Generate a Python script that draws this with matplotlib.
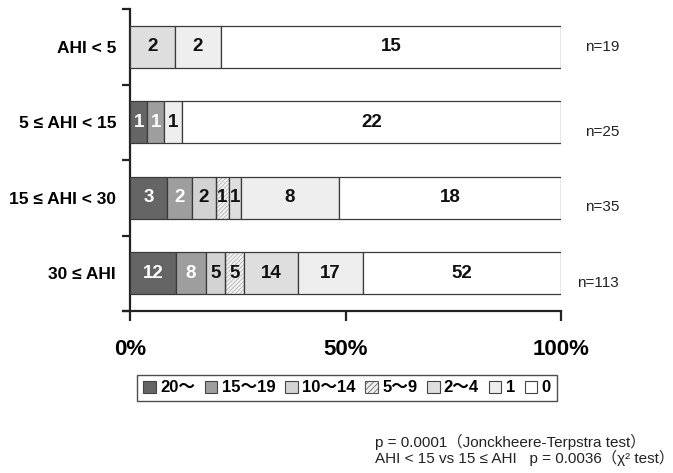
import matplotlib
matplotlib.use("Agg")
import matplotlib.pyplot as plt
import numpy as np
from matplotlib.patches import Patch

plt.rcParams['font.family'] = ['Liberation Sans', 'Noto Sans CJK JP', 'DejaVu Sans']
plt.rcParams['hatch.linewidth'] = 0.5

groups = ["AHI < 5", "5 ≤ AHI < 15", "15 ≤ AHI < 30", "30 ≤ AHI"]
categories = ["20～", "15～19", "10～14", "5～9", "2～4", "1", "0"]
counts = [
    [0, 0, 0, 0, 2, 2, 15],
    [1, 1, 0, 0, 0, 1, 22],
    [3, 2, 2, 1, 1, 8, 18],
    [12, 8, 5, 5, 14, 17, 52],
]
n_labels = ["n=19", "n=25", "n=35", "n=113"]

colors = ["#656565", "#9e9e9e", "#d2d2d2", "#ececec", "#dedede", "#eeeeee", "#ffffff"]
hatches = [None, None, None, "////////", None, None, None]
text_colors = ["white", "white", "#111111", "#111111", "#111111", "#111111", "#111111"]
edge = "#3a3a3a"

fig = plt.figure(figsize=(6.73, 4.73), dpi=100)
ax = fig.add_axes([130/673, 1-311/473, 431/673, 302/473])

bar_h = 0.555
for gi, row in enumerate(counts):
    y = 3.5 - gi
    total = sum(row)
    left = 0.0
    for ci, v in enumerate(row):
        if v == 0:
            continue
        w = v / total
        if hatches[ci]:
            ax.barh(y, w, left=left, height=bar_h, color="#f2f2f2",
                    hatch=hatches[ci], edgecolor="#a8a8a8", linewidth=0, zorder=2)
            ax.barh(y, w, left=left, height=bar_h, fill=False,
                    edgecolor=edge, linewidth=0.9, zorder=3)
        else:
            ax.barh(y, w, left=left, height=bar_h, color=colors[ci],
                    edgecolor=edge, linewidth=0.9, zorder=3)
        ax.text(left + w/2, y, str(v), ha="center", va="center",
                fontsize=13.5, fontweight="bold", color=text_colors[ci], zorder=4)
        left += w

n_offsets = [0.0, -0.13, -0.12, -0.13]
n_x = [1.056, 1.056, 1.056, 1.037]
for gi, lab in enumerate(n_labels):
    y = 3.5 - gi + n_offsets[gi]
    ax.text(n_x[gi], y, lab, ha="left", va="center", fontsize=11,
            transform=ax.get_yaxis_transform(), color="#222222")

ax.set_xlim(0, 1)
ax.set_ylim(0, 4)
for s in ["top", "right"]:
    ax.spines[s].set_visible(False)
for s in ["left", "bottom"]:
    ax.spines[s].set_linewidth(1.6)
    ax.spines[s].set_color("#222222")
ax.spines["bottom"].set_bounds(-0.016, 1)

ax.set_xticks([0, 0.5, 1])
ax.set_xticklabels(["0%", "50%", "100%"], fontsize=16, fontweight="bold")
ax.tick_params(axis="x", direction="out", length=7, width=1.6, color="#222222", pad=13)

ax.set_yticks([0, 1, 2, 3, 4])
ax.set_yticklabels([])
ax.tick_params(axis="y", which="major", direction="out", length=6, width=1.6, color="#222222")
ax.set_yticks([3.5, 2.5, 1.5, 0.5], minor=True)
ax.set_yticklabels(groups, minor=True, fontsize=12.5, fontweight="bold")
ax.tick_params(axis="y", which="minor", length=0, pad=10)

handles = []
for ci, c in enumerate(categories):
    if hatches[ci]:
        handles.append(Patch(facecolor="#f0f0f0", edgecolor="#555555", hatch="//////", linewidth=0.8))
    else:
        handles.append(Patch(facecolor=colors[ci], edgecolor="#444444", linewidth=0.8))
leg = fig.legend(handles, categories, loc="center", bbox_to_anchor=(347/673, 1-388/473),
                 ncol=7, frameon=True, fancybox=False, edgecolor="#222222",
                 prop={"weight": "bold", "size": 12}, handlelength=0.75, handleheight=0.75,
                 handletextpad=0.25, columnspacing=0.6, borderpad=0.35)
leg.get_frame().set_linewidth(1.0)

fig.text(375/673, 1-442/473, "p = 0.0001（Jonckheere-Terpstra test）", fontsize=11,
         ha="left", va="center", color="#222222")
fig.text(375/673, 1-458/473, "AHI < 15 vs 15 ≤ AHI   p = 0.0036（χ² test）", fontsize=11,
         ha="left", va="center", color="#222222")

fig.savefig("out.png", dpi=100)
